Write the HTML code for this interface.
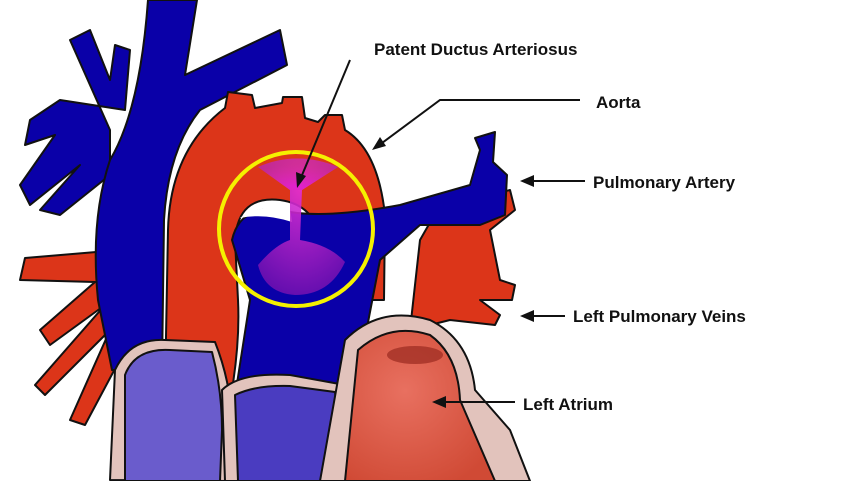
<!DOCTYPE html>
<html><head><meta charset="utf-8"><style>
html,body{margin:0;padding:0;background:#fff;}
svg{display:block;}
text{font-family:"Liberation Sans",sans-serif;font-weight:bold;font-size:17px;fill:#111;}
</style></head><body>
<svg width="852" height="481" viewBox="0 0 852 481" xmlns="http://www.w3.org/2000/svg">
<defs>
<radialGradient id="pk1" cx="0.5" cy="0.9" r="0.7"><stop offset="0" stop-color="#e020d0"/><stop offset="1" stop-color="#d03080" stop-opacity="0.6"/></radialGradient>
<radialGradient id="pk2" cx="0.5" cy="0.2" r="0.8"><stop offset="0" stop-color="#e830d8"/><stop offset="1" stop-color="#7010b0"/></radialGradient>
<radialGradient id="la" cx="0.4" cy="0.4" r="0.7"><stop offset="0" stop-color="#e87060"/><stop offset="1" stop-color="#d04a35"/></radialGradient>
</defs>
<g stroke="#111" stroke-width="2" stroke-linejoin="round">
<path d="M120 250 L25 258 L20 280 L95 282 L40 330 L50 345 L105 305 L35 385 L45 395 L110 330 L70 420 L85 425 L125 350 L130 440 L160 440 L150 260 Z" fill="#dc3519"/>
<path d="M420 240 L440 205 L470 200 L510 190 L515 210 L490 230 L500 280 L515 285 L512 300 L480 300 L500 315 L495 325 L450 320 L410 330 Z" fill="#dc3519"/>
<path d="M110 130 L70 40 L90 30 L110 80 L115 45 L130 50 L125 110 L60 100 L30 120 L25 145 L55 135 L20 185 L30 205 L80 165 L40 210 L60 215 L110 175 Z" fill="#0a00a8"/>
<path d="M148 0 L197 0 L185 75 L280 30 L287 65 L200 110 Q168 150 164 220 L162 370 L112 370 L98 300 Q90 220 110 160 Q140 110 148 0 Z" fill="#0a00a8"/>
<path d="M165 390 L168 230 Q170 150 225 108 L228 92 L252 95 L255 108 L282 103 L283 97 L302 97 L305 118 L318 122 L325 115 L342 115 L345 130 Q378 150 385 215 L384 300 L330 300 L320 240 Q315 205 280 200 Q238 195 235 240 L238 300 Q240 340 232 390 Z" fill="#dc3519"/>
<path d="M236 390 L250 300 L232 240 Q240 205 280 210 Q320 220 400 205 L470 185 L480 150 L475 138 L495 132 L493 162 L507 175 L505 215 L480 225 L420 225 L380 260 L355 390 Z" fill="#0a00a8"/>
<path d="M240 218 Q255 205 290 208 L292 222 Q265 213 240 218 Z" fill="#fff" stroke="none"/>
<!-- lower right ventricle -->
<path d="M440 481 L470 400 Q500 420 520 481 Z" fill="#d8452c"/>
<path d="M110 480 L115 370 Q130 338 165 340 L215 342 Q230 380 232 420 L228 481 Z" fill="#e2c3bc"/>
<path d="M125 481 L125 375 Q135 348 170 350 L212 352 Q222 390 222 430 L220 481 Z" fill="#6a5ccc"/>
<path d="M225 481 L222 390 Q240 372 290 375 L345 385 L360 481 Z" fill="#e2c3bc"/>
<path d="M238 481 L235 395 Q255 385 290 386 L335 392 L345 481 Z" fill="#4a3cc0"/>
<path d="M320 481 L345 340 Q380 305 430 320 Q470 340 475 390 L510 430 L530 481 Z" fill="#e2c3bc"/>
<path d="M345 481 L358 350 Q390 322 430 335 Q458 355 460 400 L495 481 Z" fill="url(#la)"/>
<ellipse cx="415" cy="355" rx="28" ry="9" fill="#9a2a20" stroke="none" opacity="0.7"/>
</g>
<path d="M258 167 Q297 150 338 167 L302 190 L300 240 Q330 245 345 262 Q330 295 295 295 Q265 293 258 265 Q275 245 290 240 L290 190 Z" fill="url(#pk2)" opacity="0.9"/>
<path d="M258 167 Q297 150 338 167 L302 190 L290 190 Z" fill="url(#pk1)"/>
<circle cx="296" cy="229" r="77" fill="none" stroke="#f5f000" stroke-width="4"/>
<g stroke="#111" stroke-width="2" fill="none">
<line x1="350" y1="60" x2="300" y2="180"/>
<polyline points="580,100 440,100 378,146"/>
<line x1="585" y1="181" x2="524" y2="181"/>
<line x1="565" y1="316" x2="524" y2="316"/>
<line x1="515" y1="402" x2="436" y2="402"/>
</g>
<g fill="#111">
<polygon points="297,188 296,172 306,176"/>
<polygon points="372,150 380,137 386,146"/>
<polygon points="520,181 534,175 534,187"/>
<polygon points="520,316 534,310 534,322"/>
<polygon points="432,402 446,396 446,408"/>
</g>
<text x="374" y="55">Patent Ductus Arteriosus</text>
<text x="596" y="108">Aorta</text>
<text x="593" y="188">Pulmonary Artery</text>
<text x="573" y="322">Left Pulmonary Veins</text>
<text x="523" y="410">Left Atrium</text>
</svg>
</body></html>
